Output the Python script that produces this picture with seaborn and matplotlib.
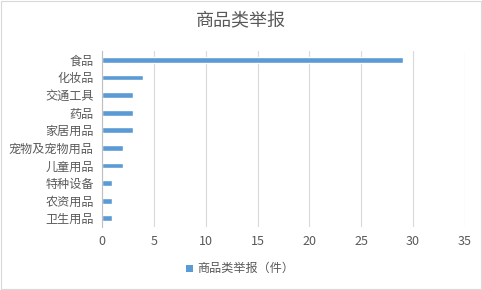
import matplotlib
matplotlib.use("Agg")
import matplotlib.pyplot as plt
import seaborn as sns
import pandas as pd
from matplotlib.patches import Rectangle

categories = ["食品", "化妆品", "交通工具", "药品", "家居用品", "宠物及宠物用品", "儿童用品", "特种设备", "农资用品", "卫生用品"]
values = [29, 4, 3, 3, 3, 2, 2, 1, 1, 1]
xticks = [0, 5, 10, 15, 20, 25, 30, 35]
title = "商品类举报"
legend_label = "商品类举报（件）"

sns.set_theme(style="white")
plt.rcParams['font.family'] = ['Noto Sans CJK SC', 'DejaVu Sans']

df = pd.DataFrame({"cat": categories, "val": values})

fig = plt.figure(figsize=(4.82, 2.90), dpi=100)
ax = fig.add_axes([0.2116, 0.217, 0.7531, 0.607])
sns.barplot(data=df, y="cat", x="val", color="#5B9BD5", saturation=1, width=0.33, ax=ax, orient="h")

ax.set_xlim(0, 35)
ax.set_xticks(xticks)
ax.set_xticklabels([str(t) for t in xticks], fontsize=9, color="#595959")
ax.tick_params(axis="y", labelsize=8.7, labelcolor="#595959", length=0, pad=6)
ax.tick_params(axis="x", length=0, pad=6)
ax.set_xlabel("")
ax.set_ylabel("")
ax.grid(axis="x", color="#D9D9D9", linewidth=0.8)
ax.set_axisbelow(True)
for s in ["top", "right", "bottom"]:
    ax.spines[s].set_visible(False)
ax.spines["left"].set_color("#BFBFBF")
ax.spines["left"].set_linewidth(0.8)

fig.text(0.5, 0.925, title, ha="center", va="center", fontsize=13, color="#595959")

# legend
fig.patches.append(Rectangle((0.386, 0.062), 0.0145, 0.024, transform=fig.transFigure,
                             facecolor="#5B9BD5", edgecolor="none"))
fig.text(0.410, 0.073, legend_label, ha="left", va="center", fontsize=8.7, color="#595959")

# border
fig.patches.append(Rectangle((0.002, 0.003), 0.995, 0.993, transform=fig.transFigure,
                             facecolor="none", edgecolor="#D9D9D9", linewidth=0.8))

fig.savefig("out.png", dpi=100)
